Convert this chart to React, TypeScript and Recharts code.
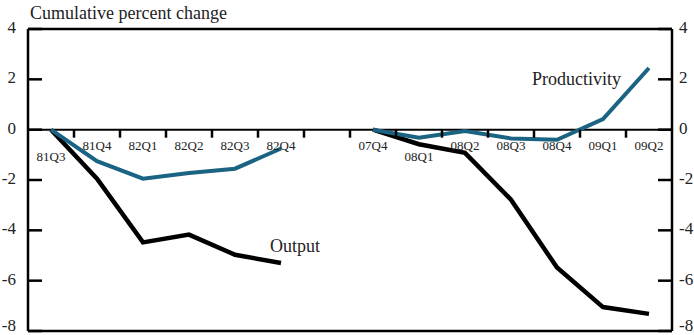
import React from "react";
import { LineChart, Line, XAxis, YAxis, ReferenceLine } from "recharts";

const quarters = ["81Q3", "81Q4", "82Q1", "82Q2", "82Q3", "82Q4", "", "07Q4", "08Q1", "08Q2", "08Q3", "08Q4", "09Q1", "09Q2"];
const productivity = [0, -1.25, -1.95, -1.72, -1.55, -0.75, null, 0, -0.32, -0.05, -0.35, -0.4, 0.42, 2.45];
const output = [0, -1.95, -4.48, -4.17, -4.97, -5.3, null, 0, -0.58, -0.92, -2.78, -5.48, -7.05, -7.32];
const yTicks = [-8, -6, -4, -2, 0, 2, 4];
const lowered = ["81Q3", "08Q1"];

const data = quarters.map((q, i) => ({ q, productivity: productivity[i], output: output[i] }));

const W = 694;
const H = 335;
const TOP = 29;
const BOTTOM = 3;
const X_H = 1;
const LEFT_W = 28;
const RIGHT_W = 22;
const Y_MIN = -8;
const Y_MAX = 4;
const PLOT_H = H - TOP - BOTTOM - X_H;
const BAND = (W - LEFT_W - RIGHT_W) / quarters.length;
const ZERO_Y = TOP + ((Y_MAX - 0) / (Y_MAX - Y_MIN)) * PLOT_H;
const FONT = "Liberation Serif";
const TEAL = "#1a6383";

const XTick = (props: any) => {
  const { x, payload } = props;
  const v = payload.value;
  const idx = payload.index;
  const low = lowered.includes(v);
  return (
    <g>
      {idx < quarters.length - 1 && (
        <rect x={x + BAND / 2 - 1.25} y={ZERO_Y} width={2.5} height={8} fill="#000" />
      )}
      {v && (
        <text x={x} y={ZERO_Y + (low ? 31 : 20)} textAnchor="middle" fontSize={13} fontFamily={FONT} fill="#222">
          {v}
        </text>
      )}
    </g>
  );
};

const labelY = (y: number) => Math.min(y + 4, H - 4);

const LeftTick = (props: any) => {
  const { y, payload } = props;
  const ax = LEFT_W;
  return (
    <g>
      <rect x={ax} y={y - 1.25} width={14} height={2.5} fill="#000" />
      <text x={ax - 12} y={labelY(y)} textAnchor="end" fontSize={17} fontFamily={FONT} fill="#222">
        {payload.value}
      </text>
    </g>
  );
};

const RightTick = (props: any) => {
  const { y, payload } = props;
  const ax = W - RIGHT_W;
  return (
    <g>
      <rect x={ax - 14} y={y - 1.25} width={14} height={2.5} fill="#000" />
      <text x={ax + 7} y={labelY(y)} textAnchor="start" fontSize={17} fontFamily={FONT} fill="#222">
        {payload.value}
      </text>
    </g>
  );
};

export default function App() {
  return (
    <div style={{ position: "absolute", left: 0, top: 0, width: W, height: H, background: "#fff" }}>
      <LineChart width={W} height={H} data={data} margin={{ top: TOP, right: 0, bottom: BOTTOM, left: 0 }}>
        <XAxis
          dataKey="q"
          xAxisId="x"
          interval={0}
          padding={{ left: BAND / 2, right: BAND / 2 }}
          axisLine={false}
          tickLine={false}
          height={X_H}
          tick={<XTick />}
        />
        <YAxis
          yAxisId="left"
          width={LEFT_W}
          domain={[Y_MIN, Y_MAX]}
          ticks={yTicks}
          interval={0}
          allowDataOverflow
          axisLine={{ stroke: "#000", strokeWidth: 2.5 }}
          tickLine={false}
          tick={<LeftTick />}
        />
        <YAxis
          yAxisId="right"
          orientation="right"
          width={RIGHT_W}
          domain={[Y_MIN, Y_MAX]}
          ticks={yTicks}
          interval={0}
          allowDataOverflow
          axisLine={{ stroke: "#000", strokeWidth: 2.5 }}
          tickLine={false}
          tick={<RightTick />}
        />
        <ReferenceLine yAxisId="left" xAxisId="x" y={Y_MAX} stroke="#000" strokeWidth={2.5} />
        <ReferenceLine yAxisId="left" xAxisId="x" y={Y_MIN} stroke="#000" strokeWidth={2.5} />
        <ReferenceLine yAxisId="left" xAxisId="x" y={0} stroke="#000" strokeWidth={2} />
        <Line
          yAxisId="left"
          xAxisId="x"
          dataKey="output"
          stroke="#000"
          strokeWidth={4.5}
          dot={false}
          isAnimationActive={false}
          type="linear"
        />
        <Line
          yAxisId="left"
          xAxisId="x"
          dataKey="productivity"
          stroke={TEAL}
          strokeWidth={4}
          dot={false}
          isAnimationActive={false}
          type="linear"
        />
        <text x={30} y={19} fontSize={18} fontFamily={FONT} fill="#222">Cumulative percent change</text>
        <text x={532} y={85} fontSize={18} fontFamily={FONT} fill="#222">Productivity</text>
        <text x={270} y={252} fontSize={18} fontFamily={FONT} fill="#222">Output</text>
      </LineChart>
    </div>
  );
}
